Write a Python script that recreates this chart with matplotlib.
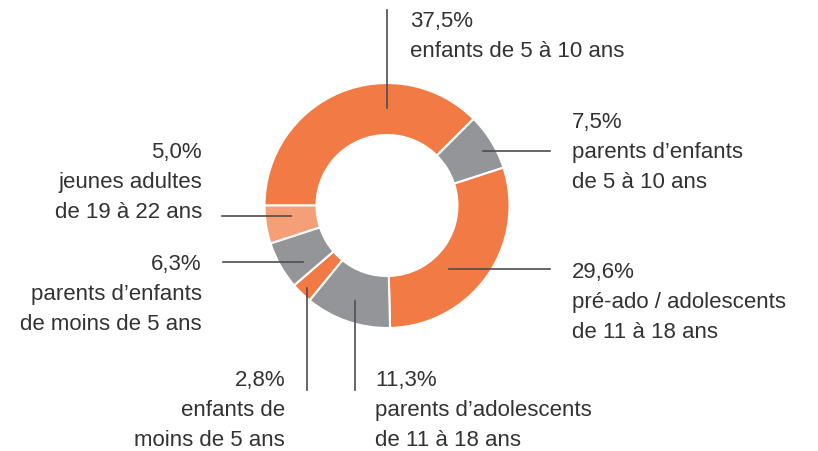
import matplotlib.pyplot as plt

plt.rcParams['font.family'] = ['Liberation Sans', 'DejaVu Sans']

# data (clockwise from 9 o'clock)
values = [37.5, 7.5, 29.6, 11.3, 2.8, 6.3, 5.0]
pct_labels = ['37,5%', '7,5%', '29,6%', '11,3%', '2,8%', '6,3%', '5,0%']
names = ['enfants de 5 à 10 ans',
         'parents d\u2019enfants\nde 5 à 10 ans',
         'pré-ado / adolescents\nde 11 à 18 ans',
         'parents d\u2019adolescents\nde 11 à 18 ans',
         'enfants de\nmoins de 5 ans',
         'parents d\u2019enfants\nde moins de 5 ans',
         'jeunes adultes\nde 19 à 22 ans']

ORANGE = '#f27a45'
GREY = '#939598'
LIGHT = '#f59f76'
colors = [ORANGE, GREY, ORANGE, GREY, ORANGE, GREY, LIGHT]

# layout in pixel coords: leader line (x0, y0, x1, y1), first baseline (x, y, ha)
lines = [(387, 10, 387, 108), (483, 151, 550, 151), (449, 269, 550, 269),
         (355, 301, 355, 390), (307, 288, 307, 390), (223, 262, 303, 262),
         (222, 216, 291, 216)]
texts = [(410, 27, 'left'), (572, 128, 'left'), (572, 278, 'left'),
         (375, 386, 'left'), (285, 386, 'right'), (202, 270, 'right'),
         (202, 158, 'right')]
line_gap = 30

fig = plt.figure(figsize=(8.18, 4.51), dpi=100)
ax = fig.add_axes([0, 0, 1, 1])

# y axis is flipped below, so counterclock=True draws clockwise on screen
ax.pie(values, colors=colors, startangle=180, counterclock=True,
       center=(387, 205.5), radius=122.5, frame=True,
       wedgeprops=dict(width=52, edgecolor='white', linewidth=1.5))
ax.set_xlim(0, 818)
ax.set_ylim(451, 0)
ax.set_aspect('auto')
ax.axis('off')

for (x0, y0, x1, y1) in lines:
    ax.plot([x0, x1], [y0, y1], color='#4d4d4d', lw=1.2, zorder=5)

for (x, y, ha), p, n in zip(texts, pct_labels, names):
    rows = [p] + n.split('\n')
    for i, row in enumerate(rows):
        ax.text(x, y + i * line_gap, row, ha=ha, va='baseline',
                fontsize=16, color='#333333')

fig.savefig('out.png', dpi=100)
plt.close()
